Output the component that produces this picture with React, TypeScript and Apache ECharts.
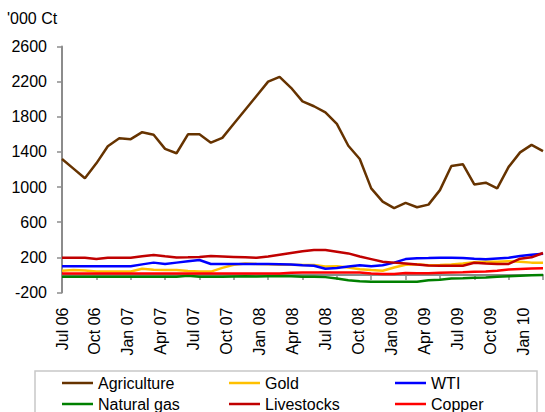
import React, { useEffect, useRef } from "react";
import * as echarts from "echarts";

const months = ["Jul 06","Aug 06","Sep 06","Oct 06","Nov 06","Dec 06","Jan 07","Feb 07","Mar 07","Apr 07","May 07","Jun 07","Jul 07","Aug 07","Sep 07","Oct 07","Nov 07","Dec 07","Jan 08","Feb 08","Mar 08","Apr 08","May 08","Jun 08","Jul 08","Aug 08","Sep 08","Oct 08","Nov 08","Dec 08","Jan 09","Feb 09","Mar 09","Apr 09","May 09","Jun 09","Jul 09","Aug 09","Sep 09","Oct 09","Nov 09","Dec 09","Jan 10"];

const agriculture = [1320,1210,1100,1270,1465,1555,1545,1625,1595,1435,1385,1600,1600,1505,1560,1720,1880,2040,2200,2255,2130,1975,1920,1850,1720,1470,1320,985,835,760,820,770,800,965,1240,1260,1030,1050,985,1230,1395,1480,1410];
const gold = [48,55,50,40,38,38,40,70,60,55,55,45,40,38,80,115,130,125,122,115,115,112,112,95,100,85,65,55,48,85,115,122,110,112,120,130,145,150,150,155,150,140,140];
const wti = [100,100,100,100,100,100,100,120,140,125,140,155,170,125,125,125,125,125,125,122,118,110,105,70,80,95,110,100,110,140,180,190,192,195,195,193,185,178,188,196,215,230,240];
const naturalGas = [-20,-20,-20,-20,-20,-20,-20,-20,-20,-20,-20,-10,-20,-22,-22,-18,-15,-18,-15,-12,-15,-20,-22,-25,-40,-60,-72,-77,-77,-77,-77,-77,-60,-55,-42,-38,-33,-30,-22,-15,-8,-3,0];
const livestocks = [196,196,196,182,196,196,196,212,227,212,198,200,205,215,210,205,200,195,210,230,250,270,284,284,265,245,210,180,150,140,130,118,108,105,105,105,138,130,125,125,185,200,250];
const copper = [15,15,15,15,15,15,15,15,15,15,15,15,15,15,15,15,15,15,15,15,25,28,28,28,28,28,28,15,10,10,22,20,20,25,28,30,35,40,48,62,68,73,76];

const yMin = -200;
const yMax = 2600;
const yStep = 400;

const seriesDefs = [
  { name: "Agriculture", data: agriculture, color: "#663300" },
  { name: "Gold", data: gold, color: "#FFC000" },
  { name: "WTI", data: wti, color: "#0000FF" },
  { name: "Natural gas", data: naturalGas, color: "#008000" },
  { name: "Livestocks", data: livestocks, color: "#C00000" },
  { name: "Copper", data: copper, color: "#FF0000" },
];

const FONT = "'Liberation Sans', Arial, sans-serif";

export default function App() {
  const ref = useRef<HTMLDivElement>(null);
  useEffect(() => {
    if (!ref.current) return;
    const chart = echarts.init(ref.current, null, { renderer: "svg" });
    const legendPos = [
      { left: 62, top: 375 },
      { left: 229, top: 375 },
      { left: 395, top: 375 },
      { left: 62, top: 396 },
      { left: 229, top: 396 },
      { left: 395, top: 396 },
    ];
    const option: any = {
      animation: false,
      backgroundColor: "#ffffff",
      textStyle: { fontFamily: FONT },
      grid: [
        { left: 62, top: 46.5, width: 481, height: 246, containLabel: false, outerBoundsMode: "none" },
        { left: 62, top: 46.5, width: 461, height: 246, containLabel: false, outerBoundsMode: "none" },
      ],
      xAxis: [
        {
          type: "category",
          gridIndex: 0,
          data: months,
          boundaryGap: false,
          axisLine: { show: true, onZero: true, lineStyle: { color: "#8c8c8c", width: 2 } },
          axisTick: { show: true, interval: 2, length: 5, lineStyle: { color: "#8c8c8c", width: 1.5 } },
          axisLabel: { show: false },
          splitLine: { show: false },
        },
        {
          type: "category",
          gridIndex: 1,
          data: months,
          boundaryGap: false,
          position: "bottom",
          axisLine: { show: false, onZero: false },
          axisTick: { show: false },
          axisLabel: {
            show: true,
            interval: 2,
            rotate: 90,
            margin: 15,
            fontSize: 16,
            color: "#000",
            fontFamily: FONT,
            hideOverlap: false,
          },
          splitLine: { show: false },
        },
      ],
      yAxis: [
        {
          type: "value",
          gridIndex: 0,
          min: yMin,
          max: yMax,
          interval: yStep,
          axisLine: { show: true, lineStyle: { color: "#8c8c8c", width: 2 } },
          axisTick: { show: true, length: 5, lineStyle: { color: "#8c8c8c", width: 1.5 } },
          axisLabel: {
            margin: 15,
            fontSize: 16,
            color: "#000",
            fontFamily: FONT,
            formatter: (v: number) => String(v),
          },
          splitLine: { show: false },
        },
        {
          type: "value",
          gridIndex: 1,
          min: yMin,
          max: yMax,
          show: false,
        },
      ],
      legend: seriesDefs.map((s, i) => ({
        data: [{ name: s.name, icon: "rect", itemStyle: { color: s.color } }],
        left: legendPos[i].left,
        top: legendPos[i].top,
        padding: 0,
        itemWidth: 31,
        itemHeight: 2.5,
        selectedMode: false,
        textStyle: { fontSize: 16, color: "#000", fontFamily: FONT },
      })),
      graphic: [
        {
          type: "text",
          left: 7,
          top: 10,
          style: { text: "'000 Ct", fontSize: 16, fill: "#000", fontFamily: FONT },
        },
        {
          type: "rect",
          shape: { x: 35, y: 371, width: 502, height: 60 },
          style: { fill: "none", stroke: "#c8c8c8", lineWidth: 1.5 },
          z: -1,
        },
      ],
      series: [
        ...seriesDefs.map((s) => ({
          name: s.name,
          type: "line",
          xAxisIndex: 0,
          yAxisIndex: 0,
          data: s.data,
          symbol: "none",
          showSymbol: false,
          lineStyle: { color: s.color, width: 2.5 },
          itemStyle: { color: s.color },
          emphasis: { disabled: true },
        })),
        {
          name: "_labels",
          type: "line",
          xAxisIndex: 1,
          yAxisIndex: 1,
          data: [],
          symbol: "none",
        },
      ],
    };
    chart.setOption(option);
    return () => chart.dispose();
  }, []);
  return (
    <div
      ref={ref}
      style={{ position: "fixed", left: 0, top: 0, width: 545, height: 412 }}
    />
  );
}
